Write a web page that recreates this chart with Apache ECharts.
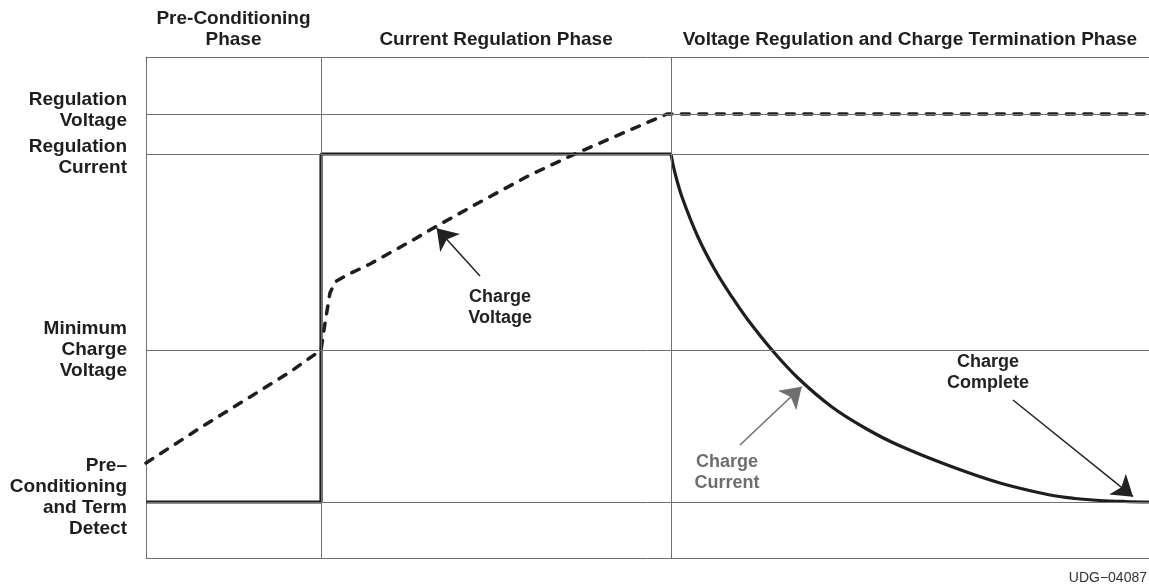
<!DOCTYPE html>
<html>
<head>
<meta charset="utf-8">
<script src="https://cdn.jsdelivr.net/npm/echarts@6/dist/echarts.min.js"></script>
<style>
  html, body { margin: 0; padding: 0; background: #fff; }
  #chart { width: 1149px; height: 587px; }
</style>
</head>
<body>
<div id="chart"></div>
<script>
// time axis runs 0..100 (arbitrary), level axis runs 0..100 (arbitrary)
var phaseNames = ["Pre-Conditioning\nPhase", "Current Regulation Phase", "Voltage Regulation and Charge Termination Phase"];
var phaseBounds = [17.45, 52.34];
var phaseCenters = [8.72, 34.9, 76.17];

var levelNames = ["Pre\u2013\nConditioning\nand Term\nDetect", "Minimum\nCharge\nVoltage", "Regulation\nCurrent", "Regulation\nVoltage"];
var levelValues = [11.18, 41.52, 80.64, 88.62];

// charge current: pre-charge step, then constant current
var currentStep = [
  [0, 11.18], [17.45, 11.18], [17.45, 80.64], [52.34, 80.64]
];
// charge current: taper during voltage regulation
var currentTaper = [
  [52.34, 80.64], [52.74, 76.85], [53.44, 72.06], [55.03, 64.07], [56.73, 57.49],
  [58.42, 52.10], [60.02, 47.50], [62.41, 41.52], [65.0, 35.93], [68.39, 30.14],
  [71.68, 25.95], [74.98, 22.55], [80.16, 18.36], [85.14, 14.97], [90.13, 12.57],
  [92.62, 11.88], [95.11, 11.48], [97.61, 11.28], [100, 11.18]
];
// charge voltage
var chargeVoltage = [
  [0, 18.96], [5.38, 25.95], [10.37, 32.14], [14.36, 37.13], [17.45, 41.52],
  [17.85, 46.91], [18.34, 52.89], [18.84, 55.09], [20.04, 56.49], [22.33, 58.68],
  [26.62, 63.47], [29.01, 66.27], [33.3, 71.06], [38.29, 76.45], [42.97, 80.84],
  [48.26, 85.43], [51.94, 88.62], [100, 88.62]
];

// callouts: text position, arrow tail, arrow tip
var notes = [
  { text: "Charge\nVoltage", at: [35.3, 49.9], from: [33.3, 56.3], to: [28.98, 65.81], color: "#222" },
  { text: "Charge\nCurrent", at: [57.93, 17.07], from: [59.22, 22.55], to: [65.37, 34.19], color: "#6e6e6e" },
  { text: "Charge\nComplete", at: [83.95, 36.93], from: [86.44, 31.54], to: [98.41, 12.24], color: "#222" }
];

var font = "Liberation Sans, Arial, sans-serif";
var gridColor = "#707070";
var labelNudge = [-4.5, 0, 3.5, -3.5]; // px shift of the level labels off their lines

var chart = echarts.init(document.getElementById("chart"));

var gridLines = [];
levelValues.forEach(function (v) { gridLines.push({ yAxis: v }); });
phaseBounds.forEach(function (v) { gridLines.push({ xAxis: v }); });

function nearestLabel(v, values, names) {
  var best = 0;
  for (var i = 1; i < values.length; i++) {
    if (Math.abs(values[i] - v) < Math.abs(values[best] - v)) best = i;
  }
  return names[best];
}

var option = {
  animation: false,
  backgroundColor: "#fff",
  grid: { left: 146, right: 0, top: 57, bottom: 29 },
  xAxis: [
    {
      type: "value", min: 0, max: 100, position: "bottom",
      axisLine: { show: true, lineStyle: { color: gridColor, width: 1 } },
      axisTick: { show: false }, axisLabel: { show: false }, splitLine: { show: false }
    },
    {
      type: "value", min: 0, max: 100, position: "top",
      axisLine: { show: true, lineStyle: { color: gridColor, width: 1 } },
      axisTick: { show: false }, splitLine: { show: false },
      axisLabel: {
        customValues: phaseCenters, hideOverlap: false,
        formatter: function (v) { return nearestLabel(v, phaseCenters, phaseNames); },
        color: "#1e1e1e", fontFamily: font, fontWeight: "bold", fontSize: 19,
        lineHeight: 21, margin: 7, align: "center"
      }
    }
  ],
  yAxis: {
    type: "value", min: 0, max: 100,
    axisLine: { show: true, lineStyle: { color: gridColor, width: 1 } },
    axisTick: { show: false }, splitLine: { show: false }, axisLabel: { show: false }
  },
  series: [
    {
      name: "grid", type: "line", data: [], z: 1, silent: true,
      markLine: {
        silent: true, symbol: "none", label: { show: false },
        lineStyle: { color: gridColor, width: 1, type: "solid" },
        data: gridLines
      }
    },
    {
      name: "Charge Voltage", type: "line", data: chargeVoltage, z: 3,
      showSymbol: false, smooth: false,
      lineStyle: { color: "#1e1e1e", width: 3.5, type: [8, 9.5], cap: "round" }
    },
    {
      name: "Charge Current", type: "line", data: currentStep, z: 4,
      showSymbol: false,
      lineStyle: { color: "#1e1e1e", width: 3.2 }
    },
    {
      name: "Charge Current taper", type: "line", data: currentTaper, z: 4,
      showSymbol: false, smooth: 0.35,
      lineStyle: { color: "#1e1e1e", width: 3.2 }
    },
    {
      name: "callouts", type: "line", data: [], z: 5, silent: true,
      markLine: {
        silent: true, symbol: ["none", "arrow"], symbolSize: 20,
        label: { show: false },
        lineStyle: { color: "#222", width: 1.5, type: "solid" },
        data: notes.map(function (n) {
          return [
            { coord: n.from, lineStyle: { color: n.color }, itemStyle: { color: n.color } },
            { coord: n.to, itemStyle: { color: n.color } }
          ];
        })
      }
    }
  ]
};

chart.setOption(option);

var texts = notes.map(function (n) {
  var p = chart.convertToPixel({ gridIndex: 0 }, n.at);
  return {
    type: "text", x: p[0], y: p[1], z: 10,
    style: {
      text: n.text, fill: n.color, font: "bold 18px " + font,
      align: "center", verticalAlign: "middle", lineHeight: 21
    }
  };
});
levelValues.forEach(function (v, i) {
  var p = chart.convertToPixel({ gridIndex: 0 }, [0, v]);
  texts.push({
    type: "text", x: p[0] - 19, y: p[1] + labelNudge[i], z: 10,
    style: {
      text: levelNames[i], fill: "#1e1e1e", font: "bold 19px " + font,
      align: "right", verticalAlign: "middle", lineHeight: 21
    }
  });
});
texts.push({
  type: "text", right: 2, bottom: 2,
  style: { text: "UDG\u221204087", fill: "#333", font: "14px " + font }
});
chart.setOption({ graphic: texts });
</script>
</body>
</html>
